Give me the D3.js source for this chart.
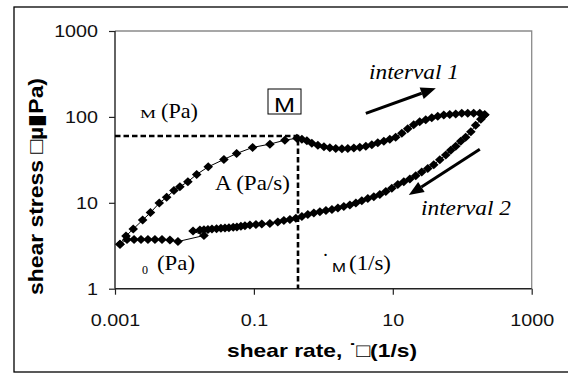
<!DOCTYPE html>
<html><head><meta charset="utf-8">
<script src="https://cdn.jsdelivr.net/npm/d3@7"></script>
<style>html,body{margin:0;padding:0;background:#fff;}svg{display:block;}</style>
</head><body>
<svg id="c" width="568" height="374"></svg>
<script>
// ---- DATA ----
const xTicks = [0.001, 0.1, 10, 1000];
const yTicks = [1, 10, 100, 1000];
const xTickLabels = ["0.001", "0.1", "10", "1000"];
const yTickLabels = ["1", "10", "100", "1000"];
// interval 1 (increasing shear rate)
const upRate = [0.00118,0.00144,0.00183,0.0025,0.00324,0.00434,0.00554,0.00706,0.0086,0.0112,0.015,0.022,0.037,0.0564,0.0958,0.17,0.279,0.416,
  0.491,0.579,0.683,0.834,1.02,1.24,1.51,1.85,2.25,2.75,3.35,4.09,4.99,6.08,7.43,9.06,11.0,13.5,16.4,20.0,24.4,29.8,36.4,44.4,54.2,66.1,80.6,98.4,120,146,179,211];
const upStress = [3.3,4.1,4.95,6.29,7.69,9.92,11.6,13.9,15.4,17.6,21.4,26.2,32,37.5,44.1,48.2,53.6,56.5,
  55.0,52.9,49.5,46.9,45.0,43.8,42.9,42.7,42.9,43.5,44.4,45.6,47.5,50.1,52.2,55.0,58.1,64.6,72.9,81.2,88.0,92.8,97.9,102,105,107,108,110,110,110,110,106];
// interval 2 (decreasing shear rate)
const downRate = [211,185,156,133,112,95.1,80.6,68.3,57.9,47.5,38.9,31.9,26.1,21.4,17.6,14.4,11.8,9.68,7.93,6.50,5.33,4.37,3.58,2.94,2.41,1.97,1.62,1.33,1.09,0.891,0.730,0.598,0.491,0.402,0.330,0.270,0.221,
  0.17,0.130,0.107,0.0876,0.0743,0.065,0.0569,0.0504,0.0437,0.0383,0.0335,0.029,0.0249,0.0218,0.0191,0.0167,0.0133,0.0191,0.00806,0.00618,0.00475,0.00376,0.00298,0.00237,0.00188,0.00149,0.00118];
const downStress = [106,94.0,80.1,67.3,58.1,52.2,45.6,41.0,35.9,31.8,27.8,25.0,22.8,20.7,18.9,17.6,16.3,14.8,13.5,12.5,11.8,11.2,10.6,9.92,9.40,9.03,8.68,8.34,8.12,7.86,7.59,7.29,6.91,6.59,6.38,6.21,5.97,
  5.76,5.65,5.58,5.50,5.39,5.32,5.24,5.18,5.13,5.08,5.05,5.00,4.95,4.88,4.84,4.81,4.69,4.16,3.54,3.68,3.73,3.73,3.73,3.73,3.73,3.73,3.3];
// yield point M
const mRate = 0.43, mStress = 60;
// direction arrows [x0,y0,x1,y1] in data units
const arrow1 = [4.09, 110, 41.6, 216];
const arrow2 = [179, 42.1, 17.0, 12.3];

// ---- CHART ----
const svg = d3.select("#c");
const x = d3.scaleLog().domain([0.001, 1000]).range([115, 531.7]);
const y = d3.scaleLog().domain([1, 1000]).range([288.7, 31]);
const SANS = "Liberation Sans, Arial, sans-serif";
const SERIF = "Liberation Serif, DejaVu Serif, Times New Roman, serif";
const STRETCH = 1.16;
function stretch(sel, f) {
  sel.each(function(){ const l = this.getComputedTextLength(); d3.select(this).attr("textLength", l*(f||STRETCH)).attr("lengthAdjust","spacingAndGlyphs"); });
}

// outer frame
svg.append("rect").attr("x",14).attr("y",7).attr("width",580).attr("height",365)
  .attr("fill","none").attr("stroke","#000").attr("stroke-width",1.3);

// plot area top/right border
svg.append("path").attr("d",`M${x(0.001)},${y(1000)}H${x(1000)}V${y(1)}`)
  .attr("fill","none").attr("stroke","#8a8a8a").attr("stroke-width",1.3);

// axes
const gx = svg.append("g").attr("transform",`translate(0,${y(1)})`)
  .call(d3.axisBottom(x).tickValues(xTicks).tickSize(6).tickPadding(19).tickFormat((d,i)=>xTickLabels[i]));
const gy = svg.append("g").attr("transform",`translate(${x(0.001)},0)`)
  .call(d3.axisLeft(y).tickValues(yTicks).tickSize(6).tickPadding(11).tickFormat((d,i)=>yTickLabels[i]));
[gx, gy].forEach(g => {
  g.select(".domain").attr("stroke","#222").attr("stroke-width",1.4);
  g.selectAll(".tick line").attr("stroke","#222").attr("stroke-width",1.2);
  g.selectAll("text").style("font-family",SANS).attr("font-size",17).attr("fill","#111");
});
gy.select(".domain").attr("d",`M0,${y(1)}V${y(1000)}`);
gx.select(".domain").attr("d",`M${x(0.001)},0H${x(1000)}`);
stretch(gx.selectAll("text"));
stretch(gy.selectAll("text"));

// dashed lines at M
svg.append("path").attr("d",`M${x(0.001)},${Math.round(y(mStress))}H${Math.round(x(mRate))}V${y(1)}`)
  .attr("fill","none").attr("stroke","#000").attr("stroke-width",2.6).attr("stroke-dasharray","5.5,3");

// series
const up = upRate.map((r,i)=>[r, upStress[i]]);
const down = downRate.map((r,i)=>[r, downStress[i]]);
const line = d3.line().x(d=>x(d[0])).y(d=>y(d[1]));
[up, down].forEach(s => {
  svg.append("path").attr("d", line(s)).attr("fill","none").attr("stroke","#000").attr("stroke-width",1);
});
const diamond = "M0,-4.5L4.8,0L0,4.5L-4.8,0Z";
[up, down].forEach(s => {
  svg.append("g").selectAll("path").data(s).join("path")
    .attr("d", diamond).attr("transform", d=>`translate(${x(d[0])},${y(d[1])})`).attr("fill","#000");
});

// arrows
function arrow(a) {
  const x0=x(a[0]), y0=y(a[1]), x1=x(a[2]), y1=y(a[3]);
  const ang = Math.atan2(y1-y0, x1-x0), L=15, W=6;
  const bx = x1 - L*Math.cos(ang), by = y1 - L*Math.sin(ang);
  svg.append("line").attr("x1",x0).attr("y1",y0).attr("x2",bx).attr("y2",by).attr("stroke","#000").attr("stroke-width",3);
  const p = [[x1,y1],[bx + W*Math.sin(ang), by - W*Math.cos(ang)],[bx - W*Math.sin(ang), by + W*Math.cos(ang)]];
  svg.append("path").attr("d","M"+p.join("L")+"Z").attr("fill","#000");
}
arrow(arrow1); arrow(arrow2);

// text helper
function txt(t, px, py, font, size, opts) {
  opts = opts || {};
  const e = svg.append("text").attr("x",px).attr("y",py).text(t)
    .style("font-family",font).attr("font-size",size).attr("fill","#000")
    .attr("text-anchor", opts.anchor || "start");
  if (opts.italic) e.attr("font-style","italic");
  if (opts.bold) e.attr("font-weight","bold");
  if (opts.width) e.attr("textLength",opts.width).attr("lengthAdjust","spacingAndGlyphs");
  return e;
}

// box M
svg.append("rect").attr("x",268).attr("y",89).attr("width",33).attr("height",25).attr("fill","#fff").attr("stroke","#000").attr("stroke-width",1);
txt("M", 284.5, 112, SANS, 20, {anchor:"middle", width:21});

// annotations
txt("M", 140, 118, SERIF, 12, {width:16});
txt("(Pa)", 161, 118, SERIF, 21, {width:37});
txt("A (Pa/s)", 215, 190, SERIF, 21, {width:75});
txt("0", 142, 274, SERIF, 12, {width:6});
txt("(Pa)", 157, 270, SERIF, 21, {width:38});
txt("\u02D9", 322, 268, SERIF, 21);
txt("M", 332, 272, SANS, 13, {width:14});
txt("(1/s)", 349, 270, SERIF, 21, {width:42});
txt("interval 1", 369, 79, SERIF, 21, {italic:true, width:90});
txt("interval 2", 421, 215, SERIF, 21, {italic:true, width:90});

// axis titles
txt("shear rate, \u02D9\u25A1(1/s)", 322, 357, SANS, 19, {anchor:"middle", bold:true, width:190});
svg.append("text").attr("transform","translate(43,186.5) rotate(-90)")
  .attr("text-anchor","middle").style("font-family",SANS).attr("font-weight","bold").attr("font-size",21)
  .attr("textLength",217).attr("lengthAdjust","spacingAndGlyphs")
  .text("shear stress \u25A1\u00B5\u25AEPa)");
</script>
</body></html>
